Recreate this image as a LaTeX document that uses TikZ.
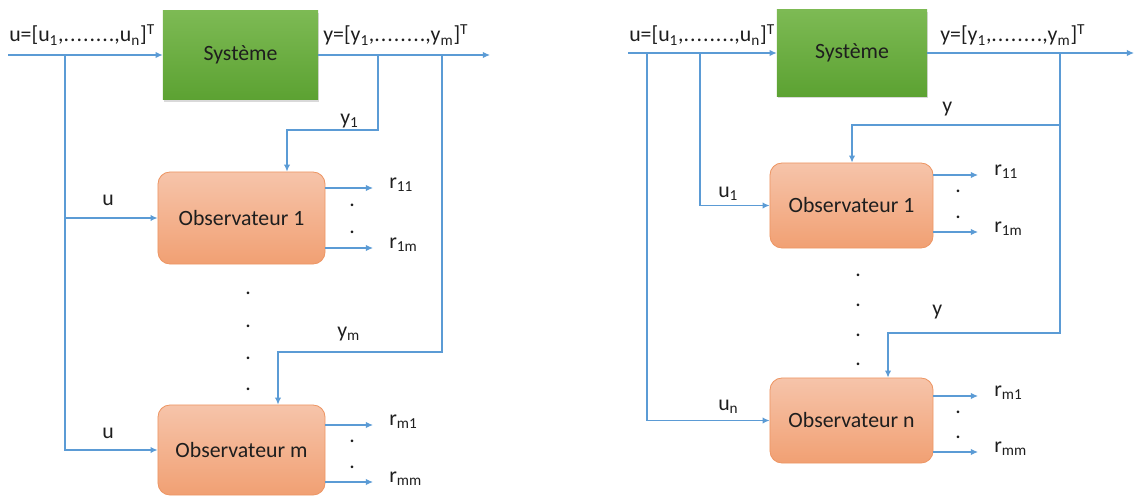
\documentclass[tikz,border=0pt]{standalone}
\usepackage{fontspec}
\setmainfont{Carlito}
\usepackage{tikz}
\usetikzlibrary{arrows.meta,calc,positioning,shadows}
\definecolor{flowblue}{RGB}{91,155,213}
\definecolor{sysgreenT}{RGB}{125,186,84}
\definecolor{sysgreenB}{RGB}{92,162,50}
\definecolor{obsT}{RGB}{246,196,170}
\definecolor{obsB}{RGB}{241,160,115}
\definecolor{obsline}{RGB}{237,150,100}
\definecolor{txt}{RGB}{30,30,30}
% spaced run of eight dots, as in the vector labels
\newcommand{\dotrun}{.\kern0.7pt.\kern0.7pt.\kern0.7pt.\kern0.7pt.\kern0.7pt.\kern0.7pt.\kern0.7pt.}

\begin{document}
\begin{tikzpicture}[x=0.025cm,y=-0.025cm,>={Latex[length=5pt,width=4.5pt]},
  font=\fontsize{15.5}{18}\selectfont,text=txt,
  flow/.style={->,draw=flowblue,line width=0.8pt},
  sysbox/.style={top color=sysgreenT,bottom color=sysgreenB,
    drop shadow={opacity=0.3,shadow xshift=0.6pt,shadow yshift=-1.5pt}},
  obsbox/.style={draw=obsline,line width=0.6pt,rounded corners=0.3cm,
    top color=obsT,bottom color=obsB},
  lbl/.style={anchor=base west,inner sep=0pt},
  dotnode/.style={anchor=base,inner sep=0pt}]
  \useasboundingbox (0,0) rectangle (1136,500);

  % Helper macro: two residuals of one observer and the dots between them.
  % #1 observer, #2 prefix, #3 label x, #4 upper y, #5 lower y, #6 #7 indices, #8 dots x
  \newcommand{\residuals}[8]{%
    \node[lbl] (#2a) at (#3,#4) {r\textsubscript{#6}};
    \node[lbl] (#2b) at (#3,#5) {r\textsubscript{#7}};
    \draw[flow,shorten >=0.4cm] (#1.east |- #2a.base west) -- (#2a.base west);
    \draw[flow,shorten >=0.4cm] (#1.east |- #2b.base west) -- (#2b.base west);
    \node[dotnode] (#2d1) at (#8,{#4+0.27*(#5-#4)+2}) {.};
    \node[dotnode] (#2d2) at (#8,{#4+0.73*(#5-#4)+2}) {.};
  }

  % left: one observer per output y_i
  \node[sysbox,minimum width=3.875cm,minimum height=2.225cm] (sysL) at (240.5,55) {Système};
  \node[obsbox,minimum width=4.175cm,minimum height=2.3cm] (obs1L) at (241.5,218) {Observateur 1};
  \node[obsbox,minimum width=4.175cm,minimum height=2.25cm] (obsmL) at (241.5,450) {Observateur m};

  \coordinate (inL) at (8,55);
  \coordinate (outL) at (490,55);
  \coordinate (uL) at (65,55);
  \coordinate (y1L) at (378,55);
  \coordinate (ymL) at (442,55);
  \coordinate (k1L) at (287,130);
  \coordinate (kmL) at (278,352);

  \draw[flow] (inL) -- (sysL.west);
  \draw[flow] (sysL.east) -- (outL);
  \draw[flow] (uL) |- (obs1L.west);
  \draw[flow] (uL) |- (obsmL.west);
  \draw[flow] (y1L) |- (k1L) -- (k1L |- obs1L.north);
  \draw[flow] (ymL) |- (kmL) -- (kmL |- obsmL.north);

  \node[lbl] (tuL) at (9,42) {u=[u\textsubscript{1},\dotrun,u\textsubscript{n}]\textsuperscript{T}};
  \node[lbl] (tyL) at (323,42) {y=[y\textsubscript{1},\dotrun,y\textsubscript{m}]\textsuperscript{T}};
  \node[lbl] (lu1L) at (102,205) {u};
  \node[lbl] (lumL) at (102,438) {u};
  \node[lbl] (ly1L) at (340,124) {y\textsubscript{1}};
  \node[lbl] (lymL) at (337,337) {y\textsubscript{m}};

  \residuals{obs1L}{r1L}{389}{188}{248}{11}{1m}{352}
  \residuals{obsmL}{rmL}{389}{425}{482}{m1}{mm}{352}
  \foreach \yy [count=\i] in {294,327,359,390}
    \node[dotnode] (vdL\i) at (248,\yy) {.};

  % right: one observer per input u_j
  \node[sysbox,minimum width=3.75cm,minimum height=2.15cm] (sysR) at (852,53) {Système};
  \node[obsbox,minimum width=4.075cm,minimum height=2.125cm] (obs1R) at (851.5,205.5) {Observateur 1};
  \node[obsbox,minimum width=4.075cm,minimum height=2.125cm] (obsnR) at (851.5,420.5) {Observateur n};

  \coordinate (inR) at (628,53);
  \coordinate (outR) at (1134,53);
  \coordinate (unR) at (647,53);
  \coordinate (u1R) at (700,53);
  \coordinate (yR) at (1060,53);
  \coordinate (k1R) at (852,125);
  \coordinate (knR) at (888,333);

  \draw[flow] (inR) -- (sysR.west);
  \draw[flow] (sysR.east) -- (outR);
  \draw[flow] (u1R) |- (obs1R.west);
  \draw[flow] (unR) |- (obsnR.west);
  \draw[flow] (yR) |- (knR) -- (knR |- obsnR.north);
  \draw[flow] (yR |- k1R) -- (k1R) -- (k1R |- obs1R.north);

  \node[lbl] (tuR) at (629,42) {u=[u\textsubscript{1},\dotrun,u\textsubscript{n}]\textsuperscript{T}};
  \node[lbl] (tyR) at (940,42) {y=[y\textsubscript{1},\dotrun,y\textsubscript{m}]\textsuperscript{T}};
  \node[lbl] (lu1R) at (718,197) {u\textsubscript{1}};
  \node[lbl] (lunR) at (718,410) {u\textsubscript{n}};
  \node[lbl] (ly1R) at (942,112) {y};
  \node[lbl] (lynR) at (932,315) {y};

  \residuals{obs1R}{r1R}{994}{175}{232}{11}{1m}{958}
  \residuals{obsnR}{rnR}{994}{396}{452}{m1}{mm}{958}
  \foreach \yy [count=\i] in {276,306,336,365}
    \node[dotnode] (vdR\i) at (858,\yy) {.};
\end{tikzpicture}
\end{document}
